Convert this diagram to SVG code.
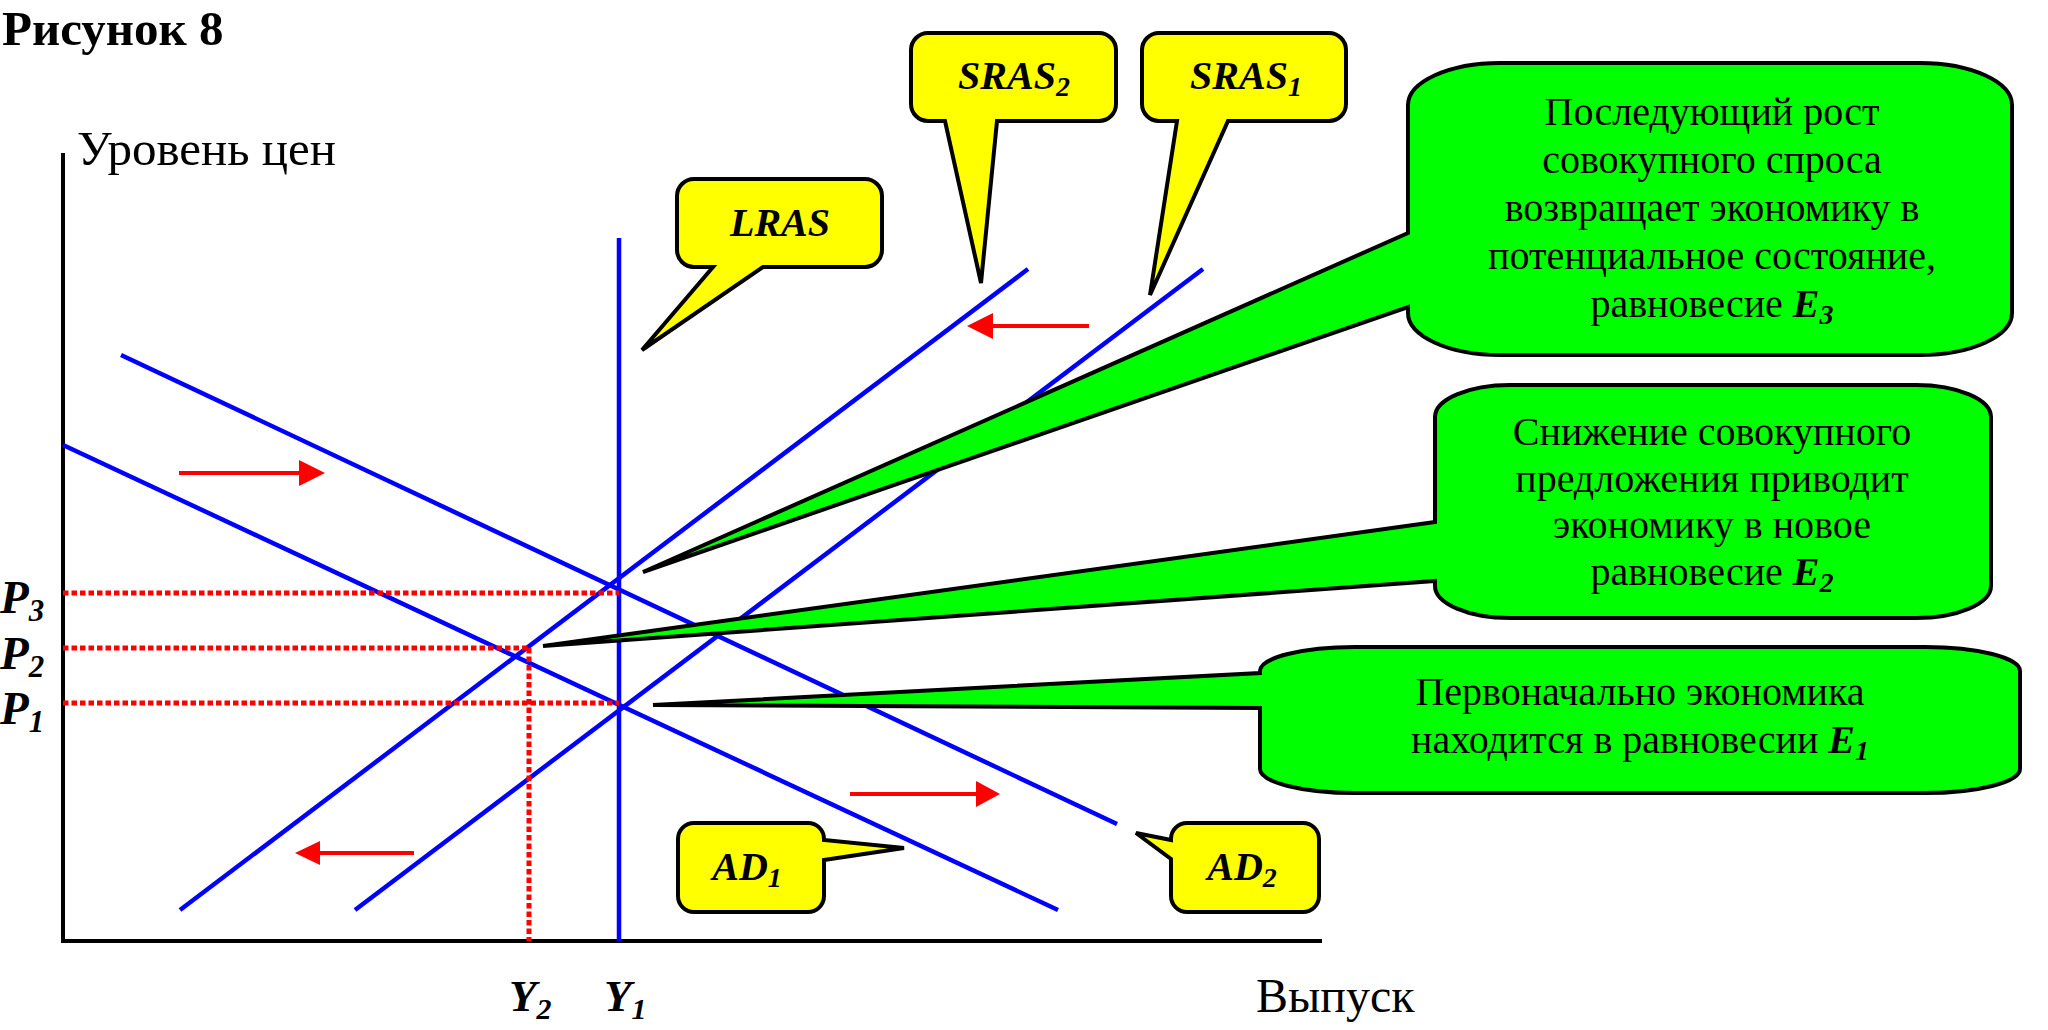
<svg xmlns="http://www.w3.org/2000/svg" width="2048" height="1030" viewBox="0 0 2048 1030">
<defs>
<style>
.serif{font-family:"Liberation Serif","Times New Roman",serif;fill:#000}
.bi{font-weight:bold;font-style:italic}
.ax{stroke:#000;stroke-width:4;fill:none}
.blue{stroke:#0000FF;stroke-width:4.5;fill:none}
.dot{stroke:#FF0000;stroke-width:5;stroke-dasharray:5.5 3;fill:none}
.arr{stroke:#FF0000;stroke-width:4;fill:none}
.head{fill:#FF0000}
.yel{fill:#FFFF00;stroke:#000;stroke-width:4;stroke-linejoin:miter}
.grn{fill:#00FF00;stroke:#000;stroke-width:4;stroke-linejoin:miter}
.lbl{font-size:40px;text-anchor:middle}
.gt{font-size:40px;text-anchor:middle}
</style>
</defs>
<rect width="2048" height="1030" fill="#fff"/>
<text class="serif" x="2" y="45" font-size="49" font-weight="bold">Рисунок 8</text>
<text class="serif" x="77" y="165" font-size="49">Уровень цен</text>
<text class="serif" x="1256" y="1012" font-size="48">Выпуск</text>

<g id="axes">
<line class="ax" x1="63" y1="153" x2="63" y2="943"/>
<line class="ax" x1="61" y1="941" x2="1322" y2="941"/>
</g>

<g id="connectors">
<line class="blue" x1="619" y1="238" x2="619" y2="941"/>
<line class="blue" x1="180" y1="910" x2="1028" y2="269"/>
<line class="blue" x1="355" y1="910" x2="1203" y2="269"/>
<line class="blue" x1="63" y1="445" x2="1058" y2="910"/>
<line class="blue" x1="121" y1="355" x2="1117" y2="824"/>
<line class="dot" x1="63" y1="593" x2="619" y2="593"/>
<line class="dot" x1="63" y1="648" x2="529" y2="648"/>
<line class="dot" x1="63" y1="703" x2="619" y2="703"/>
<line class="dot" x1="529" y1="648" x2="529" y2="941"/>
<line class="arr" x1="179" y1="473" x2="300" y2="473"/>
<polygon class="head" points="299,460 325,473 299,486"/>
<line class="arr" x1="850" y1="794" x2="977" y2="794"/>
<polygon class="head" points="976,781 1000,794 976,807"/>
<line class="arr" x1="992" y1="326" x2="1089" y2="326"/>
<polygon class="head" points="993,313 967,326 993,339"/>
<line class="arr" x1="319" y1="853" x2="414" y2="853"/>
<polygon class="head" points="320,841 295,853 320,865"/>
</g>

<g id="labels-p">
<text class="serif bi" x="0" y="613" font-size="47">P<tspan font-size="31" dy="8">3</tspan></text>
<text class="serif bi" x="0" y="669" font-size="47">P<tspan font-size="31" dy="8">2</tspan></text>
<text class="serif bi" x="0" y="724" font-size="47">P<tspan font-size="31" dy="8">1</tspan></text>
<text class="serif bi" x="509" y="1011" font-size="45">Y<tspan font-size="30" dy="8">2</tspan></text>
<text class="serif bi" x="604" y="1011" font-size="45">Y<tspan font-size="30" dy="8">1</tspan></text>
</g>

<g id="lras">
<path class="yel" d="M 694 179 H 865 A 17 17 0 0 1 882 196 V 250 A 17 17 0 0 1 865 267 H 763 L 642 350 L 713 267 H 694 A 17 17 0 0 1 677 250 V 196 A 17 17 0 0 1 694 179 Z"/>
<text class="serif bi lbl" x="780" y="236">LRAS</text>
</g>
<g id="sras2">
<path class="yel" d="M 928 33 H 1099 A 17 17 0 0 1 1116 50 V 104 A 17 17 0 0 1 1099 121 H 997 L 981 283 L 945 121 H 928 A 17 17 0 0 1 911 104 V 50 A 17 17 0 0 1 928 33 Z"/>
<text class="serif bi lbl" x="1014" y="89">SRAS<tspan font-size="28" dy="7">2</tspan></text>
</g>
<g id="sras1">
<path class="yel" d="M 1159 33 H 1329 A 17 17 0 0 1 1346 50 V 104 A 17 17 0 0 1 1329 121 H 1228 L 1150 295 L 1177 121 H 1159 A 17 17 0 0 1 1142 104 V 50 A 17 17 0 0 1 1159 33 Z"/>
<text class="serif bi lbl" x="1246" y="89">SRAS<tspan font-size="28" dy="7">1</tspan></text>
</g>
<g id="ad1">
<path class="yel" d="M 694 823 H 808 A 16 16 0 0 1 824 839 V 840 L 904 848 L 824 860 V 896 A 16 16 0 0 1 808 912 H 694 A 16 16 0 0 1 678 896 V 839 A 16 16 0 0 1 694 823 Z"/>
<text class="serif bi lbl" x="747" y="880">AD<tspan font-size="28" dy="7">1</tspan></text>
</g>
<g id="ad2">
<path class="yel" d="M 1187 823 H 1303 A 16 16 0 0 1 1319 839 V 896 A 16 16 0 0 1 1303 912 H 1187 A 16 16 0 0 1 1171 896 V 859 L 1136 833 L 1171 840 V 839 A 16 16 0 0 1 1187 823 Z"/>
<text class="serif bi lbl" x="1242" y="880">AD<tspan font-size="28" dy="7">2</tspan></text>
</g>

<g id="e3">
<path class="grn" d="M 1500 63 H 1920 A 92 42 0 0 1 2012 105 V 313 A 92 42 0 0 1 1920 355 H 1500 A 92 42 0 0 1 1408 313 V 307 L 643 572 L 1408 233 V 105 A 92 42 0 0 1 1500 63 Z"/>
<text class="serif gt" x="1712" y="125">Последующий рост</text>
<text class="serif gt" x="1712" y="173">совокупного спроса</text>
<text class="serif gt" x="1712" y="221">возвращает экономику в</text>
<text class="serif gt" x="1712" y="269">потенциальное состояние,</text>
<text class="serif gt" x="1712" y="317">равновесие <tspan class="bi">E</tspan><tspan class="bi" font-size="28" dy="7">3</tspan></text>
</g>
<g id="e2">
<path class="grn" d="M 1510 385 H 1916 A 75 32 0 0 1 1991 417 V 586 A 75 32 0 0 1 1916 618 H 1510 A 75 32 0 0 1 1435 586 V 581 L 543 646 L 1435 522 V 417 A 75 32 0 0 1 1510 385 Z"/>
<text class="serif gt" x="1712" y="445">Снижение совокупного</text>
<text class="serif gt" x="1712" y="492">предложения приводит</text>
<text class="serif gt" x="1712" y="538">экономику в новое</text>
<text class="serif gt" x="1712" y="585">равновесие <tspan class="bi">E</tspan><tspan class="bi" font-size="28" dy="7">2</tspan></text>
</g>
<g id="e1">
<path class="grn" d="M 1355 647 H 1925 A 95 24 0 0 1 2020 671 V 769 A 95 24 0 0 1 1925 793 H 1355 A 95 24 0 0 1 1260 769 V 708 L 653 705 L 1260 673 V 671 A 95 24 0 0 1 1355 647 Z"/>
<text class="serif gt" x="1640" y="705">Первоначально экономика</text>
<text class="serif gt" x="1640" y="753">находится в равновесии <tspan class="bi">E</tspan><tspan class="bi" font-size="28" dy="7">1</tspan></text>
</g>
</svg>
